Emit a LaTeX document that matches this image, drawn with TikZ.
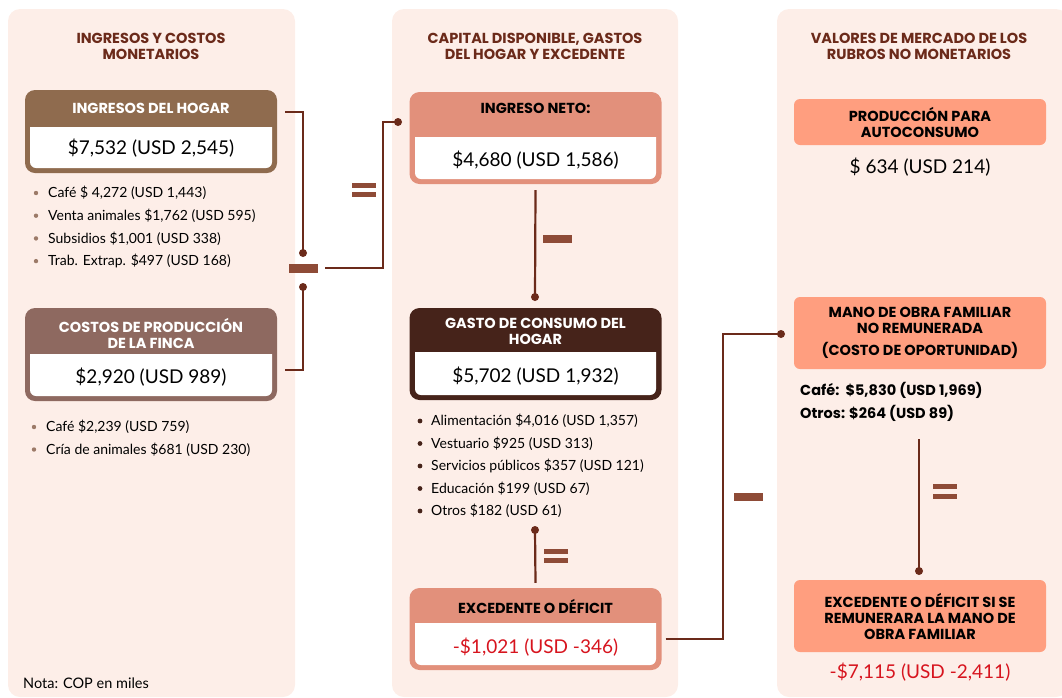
\documentclass[tikz,border=0pt]{standalone}
\usepackage{fontspec}
\setmainfont{Lato}
\newfontfamily\headfont{Poppins}
\usetikzlibrary{positioning}
\definecolor{panelbg}{HTML}{FDEEE8}
\definecolor{linec}{HTML}{6B2A1A}
\definecolor{signc}{HTML}{8E4B37}
\definecolor{hogarc}{HTML}{8F6B4E}
\definecolor{costosc}{HTML}{8E6960}
\definecolor{netoc}{HTML}{E2907B}
\definecolor{gastoc}{HTML}{46231A}
\definecolor{mercc}{HTML}{FF9E7F}
\definecolor{redtxt}{HTML}{D7141E}
\definecolor{bulletc}{HTML}{9C7A68}
\tikzset{>=stealth,
  panel/.style={fill=panelbg,rounded corners=12pt},
  title/.style={font=\headfont\bfseries\fontsize{14.5}{16}\selectfont,text=linec,align=center},
  hbox/.style={rounded corners=10pt,minimum width=252pt,inner sep=0pt},
  mbox/.style={fill=mercc,rounded corners=6pt,minimum width=252pt,inner sep=0pt},
  htxt/.style={font=\headfont\bfseries\fontsize{14.5}{16}\selectfont,align=center},
  vtxt/.style={font=\fontsize{19}{22}\selectfont},
  item/.style={font=\fontsize{14}{16}\selectfont,anchor=west,inner sep=0pt},
  conn/.style={draw=linec,line width=2.2pt},
  dot/.style={circle,fill=linec,inner sep=0pt,minimum size=8pt},
}
\begin{document}
\begin{tikzpicture}[x=1pt,y=1pt]
  \useasboundingbox (0,0) rectangle (1062,-697);
  % panels
  \fill[panel] (8,-9) rectangle (295,-697);
  \fill[panel] (392,-9) rectangle (678,-697);
  \fill[panel] (777,-9) rectangle (1068,-697);
  \node[title] (t1) at (151,-46) {INGRESOS Y COSTOS\\MONETARIOS};
  \node[title] (t2) at (535,-46) {CAPITAL DISPONIBLE, GASTOS\\DEL HOGAR Y EXCEDENTE};
  \node[title] (t3) at (919,-46) {VALORES DE MERCADO DE LOS\\RUBROS NO MONETARIOS};

  % ingresos del hogar
  \node[hbox,fill=hogarc,minimum height=83pt] (hogar) at (151,-131.5) {};
  \fill[white] (30,-127) -- (272,-127) -- (272,-162) arc (0:-90:6) -- (36,-168) arc (270:180:6) -- cycle;
  \node[htxt,text=white] (hogar-h) at (151,-108) {INGRESOS DEL HOGAR};
  \node[vtxt] (hogar-v) at (151,-148) {\$7,532 (USD 2,545)};
  \foreach \t [count=\i from 0] in {{Café \$ 4,272 (USD 1,443)},{Venta animales \$1,762 (USD 595)},{Subsidios \$1,001 (USD 338)},{Trab. Extrap. \$497 (USD 168)}}{
    \fill[bulletc] (36,-193-22.7*\i) circle (2.2pt);
    \node[item] (ih\i) at (48,-193-22.7*\i) {\t};
  }

  % costos de produccion
  \node[hbox,fill=costosc,minimum height=93pt] (costos) at (151,-354.5) {};
  \fill[white] (30,-354) -- (272,-354) -- (272,-390) arc (0:-90:6) -- (36,-396) arc (270:180:6) -- cycle;
  \node[htxt,text=white] (costos-h) at (151,-333) {COSTOS DE PRODUCCIÓN\\DE LA FINCA};
  \node[vtxt] (costos-v) at (151,-377) {\$2,920 (USD 989)};
  \foreach \t [count=\i from 0] in {{Café \$2,239 (USD 759)},{Cría de animales \$681 (USD 230)}}{
    \fill[bulletc] (34,-427-22.5*\i) circle (2.2pt);
    \node[item] (ic\i) at (46,-427-22.5*\i) {\t};
  }
  \node[item,font=\fontsize{14.5}{16}\selectfont] (nota) at (23,-683) {Nota: COP en miles};

  % ingreso neto
  \node[hbox,fill=netoc,minimum height=92pt] (neto) at (535.5,-138) {};
  \fill[white] (415,-137) -- (656,-137) -- (656,-173) arc (0:-90:6) -- (421,-179) arc (270:180:6) -- cycle;
  \node[htxt] (neto-h) at (535.5,-108) {INGRESO NETO:};
  \node[vtxt] (neto-v) at (535.5,-160) {\$4,680 (USD 1,586)};

  % gasto de consumo
  \node[hbox,fill=gastoc,minimum height=92pt] (gasto) at (535.5,-354) {};
  \fill[white] (415,-352) -- (656,-352) -- (656,-389) arc (0:-90:6) -- (421,-395) arc (270:180:6) -- cycle;
  \node[htxt,text=white] (gasto-h) at (535.5,-331) {GASTO DE CONSUMO DEL\\HOGAR};
  \node[vtxt] (gasto-v) at (535.5,-376) {\$5,702 (USD 1,932)};
  \foreach \t [count=\i from 0] in {{Alimentación \$4,016 (USD 1,357)},{Vestuario \$925 (USD 313)},{Servicios públicos \$357 (USD 121)},{Educación \$199 (USD 67)},{Otros \$182 (USD 61)}}{
    \fill[gastoc] (420,-421-22.5*\i) circle (2.4pt);
    \node[item] (ig\i) at (431,-421-22.5*\i) {\t};
  }

  % excedente o deficit
  \node[hbox,fill=netoc,minimum height=82pt] (exc) at (535.5,-629) {};
  \fill[white] (415,-623) -- (656,-623) -- (656,-659) arc (0:-90:6) -- (421,-665) arc (270:180:6) -- cycle;
  \node[htxt] (exc-h) at (535.5,-606) {EXCEDENTE O DÉFICIT};
  \node[vtxt,text=redtxt] (exc-v) at (535.5,-647) {-\$1,021 (USD -346)};

  % valores de mercado
  \node[mbox,minimum height=46pt,htxt] (auto) at (920,-122) {PRODUCCIÓN PARA\\AUTOCONSUMO};
  \node[vtxt] (auto-v) at (920,-167) {\$ 634 (USD 214)};
  \node[mbox,minimum height=72pt,htxt] (mano) at (920,-333) {MANO DE OBRA FAMILIAR\\NO REMUNERADA\\[6pt](COSTO DE OPORTUNIDAD)};
  \node[item,font=\headfont\bfseries\fontsize{14.5}{16}\selectfont] (mcafe) at (800,-390) {Café:\ \ \$5,830 (USD 1,969)};
  \node[item,font=\headfont\bfseries\fontsize{14.5}{16}\selectfont] (motros) at (800,-413) {Otros: \$264 (USD 89)};
  \node[mbox,minimum height=72pt,htxt] (exc2) at (920,-616) {EXCEDENTE O DÉFICIT SI SE\\REMUNERARA LA MANO DE\\OBRA FAMILIAR};
  \node[vtxt,text=redtxt] (exc2-v) at (920,-672) {-\$7,115 (USD -2,411)};

  % connectors
  \node[dot] (d1) at (303,-253) {};
  \node[dot] (d2) at (303,-287) {};
  \node[dot] (d3) at (398,-122) {};
  \node[dot] (d4) at (535,-297) {};
  \node[dot] (d5) at (535,-530) {};
  \node[dot] (d6) at (781,-334) {};
  \node[dot] (d7) at (919,-571) {};
  \draw[conn] ([xshift=8pt,yshift=-22pt]hogar.north east) -| (d1.center);
  \draw[conn] (d2.center) |- ([xshift=8pt,yshift=31pt]costos.south east);
  \draw[conn] (325,-268) -| (383,-122) -- (d3.center);
  \draw[conn] ([yshift=-6pt]neto.south) -- (d4.center);
  \draw[conn] (d5.center) -- ([yshift=5pt]exc.north);
  \draw[conn] ([xshift=4pt,yshift=-10pt]exc.east) -| (723,-334) -- (d6.center);
  \draw[conn] ([yshift=-18pt]motros.south -| d7) -- (d7.center);

  % signs
  \fill[signc] (289,-264) rectangle (318,-273);
  \fill[signc] (352,-183) rectangle (376,-188);
  \fill[signc] (352,-192) rectangle (376,-197);
  \fill[signc] (543,-235) rectangle (572,-243);
  \fill[signc] (544,-549) rectangle (568,-554);
  \fill[signc] (544,-558) rectangle (568,-563);
  \fill[signc] (734,-493) rectangle (763,-501);
  \fill[signc] (933,-484) rectangle (957,-489);
  \fill[signc] (933,-494) rectangle (957,-499);
\end{tikzpicture}
\end{document}
